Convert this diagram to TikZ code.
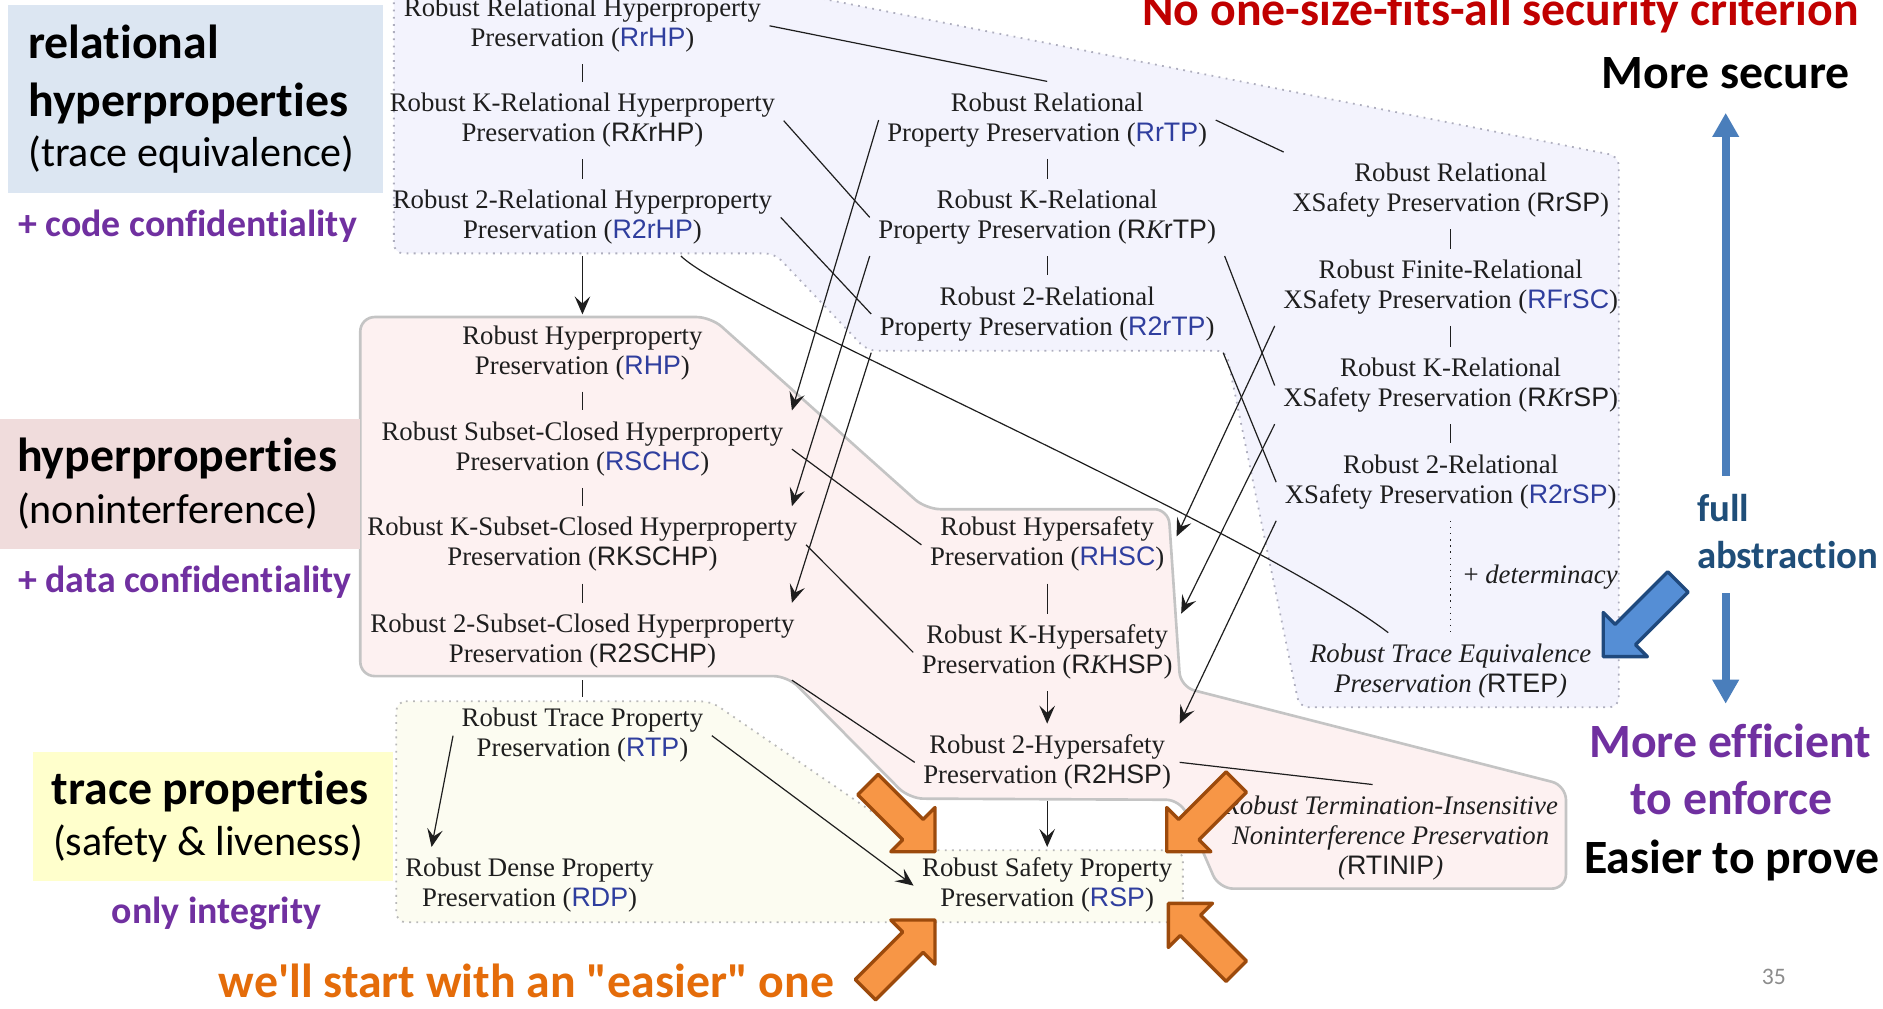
\documentclass[tikz,border=0pt]{standalone}
\usepackage{fontspec}
\setmainfont{Liberation Serif}
\newfontfamily\sansab{Liberation Sans}
\newfontfamily\calib[Ligatures={NoCommon,NoContextual}]{Carlito}
\usetikzlibrary{arrows.meta,calc}

\definecolor{txt}{HTML}{1E1E1E}
\definecolor{abblue}{HTML}{2F3E9E}
\definecolor{relfill}{HTML}{F3F3FD}
\definecolor{relline}{HTML}{AEAEBE}
\definecolor{hypfill}{HTML}{FDF1F1}
\definecolor{hypline}{HTML}{C4C4C4}
\definecolor{trfill}{HTML}{FCFCF1}
\definecolor{trline}{HTML}{B8B8B8}
\definecolor{boxblue}{HTML}{DCE6F2}
\definecolor{boxpink}{HTML}{F0DCDC}
\definecolor{boxyel}{HTML}{FFFFCC}
\definecolor{purp}{HTML}{7030A0}
\definecolor{redt}{HTML}{C00000}
\definecolor{oranget}{HTML}{E46C0A}
\definecolor{darkblue}{HTML}{1F4E79}
\definecolor{arrblue}{HTML}{4A7EBB}
\definecolor{orfill}{HTML}{F79646}
\definecolor{orbord}{HTML}{9C4A0C}
\definecolor{blfill}{HTML}{558ED5}
\definecolor{blbord}{HTML}{1F497D}
\definecolor{pagegray}{HTML}{8C8C8C}

% abbreviations: blue ones and plain ones, set in sans
\newcommand\bab[1]{{\sansab\upshape\color{abblue}#1}}
\newcommand\kab[1]{{\sansab\upshape #1}}
\newcommand\IK{{\rmfamily\itshape K}}

% a block arrow whose tip is at (0,0), pointing along +x
\tikzset{
  blockarr/.pic={
    \path[pic actions] (0,0) -- (-26,26) -- (-26,12) -- (-#1,12)
      -- (-#1,-12) -- (-26,-12) -- (-26,-26) -- cycle;
  }
}

\begin{document}
\begin{tikzpicture}[x=1pt,y=-1pt,
  prop/.style={align=center, inner sep=7pt, text=txt,
    font=\fontsize{22.3}{25}\selectfont},
  ln/.style={draw=txt, line width=1pt},
  arr/.style={ln, -{Stealth[length=15pt,width=13pt,inset=6pt]}},
  dotln/.style={draw=txt, line width=1.1pt, dash pattern=on 1.1pt off 4pt},
  lab/.style={anchor=base west, inner sep=0pt},
  labc/.style={anchor=base, inner sep=0pt},
  lbBig/.style={font=\calib\bfseries\fontsize{39.8}{44}\selectfont},
  lbReg/.style={font=\calib\fontsize{35}{40}\selectfont},
  lbNote/.style={font=\calib\bfseries\fontsize{31.5}{36}\selectfont, text=purp},
  barr/.style={draw=arrblue, line width=7pt, -{Triangle[length=20pt,width=21pt]}},
  orarr/.style={draw=orbord, fill=orfill, line width=2.8pt, line join=round},
  blarr/.style={draw=blbord, fill=blfill, line width=2.8pt, line join=round}
]
\useasboundingbox (0,0) rectangle (1568,840);
\clip (0,0) rectangle (1568,840);

% ---- the three families of criteria ----
\path[fill=relfill, draw=relline, line width=1.5pt, dash pattern=on 1.5pt off 4.5pt,
      rounded corners=8]
  (328,-30) -- (328,211) -- (645,211) -- (722,292) -- (1021,292) -- (1082,589)
  -- (1348,589) -- (1348,130) -- (589,-20) -- cycle;
\path[fill=hypfill, draw=hypline, line width=2.2pt, rounded corners=12]
  (300,264) -- (592,264) -- (771,424) -- (973,424) -- (983,572) -- (1304,654)
  -- (1304,740) -- (1015,740) -- (983,666) -- (757,665) -- (656,563)
  -- (300,563) -- cycle;
\path[fill=trfill, draw=trline, line width=1.5pt, dash pattern=on 1.5pt off 4.5pt,
      rounded corners=8]
  (330,584) -- (592,584) -- (773,708) -- (985,708) -- (985,768) -- (330,768) -- cycle;

% ---- side labels ----
\fill[boxblue] (6.4,4.2) rectangle (318.7,160.4);
\fill[boxpink] (0,349) rectangle (300,457);
\fill[boxyel] (27.7,626) rectangle (327.4,733.4);

\node[lab, lbBig] (lRelA) at (23.4,48.6) {relational};
\node[lab, lbBig] (lRelB) at (23.4,97) {hyperproperties};
\node[lab, lbReg] (lRelC) at (23.4,139) {(trace equivalence)};
\node[lab, lbNote] (lCode) at (15,197) {+ code confidentiality};
\node[lab, lbBig] (lHypA) at (14,393) {hyperproperties};
\node[lab, lbReg] (lHypB) at (14,436) {(noninterference)};
\node[lab, lbNote] (lData) at (15,493) {+ data confidentiality};
\node[lab, lbBig] (lTrA) at (43,669.5) {trace properties};
\node[lab, lbReg] (lTrB) at (44,712) {(safety \& liveness)};
\node[lab, lbNote] (lInt) at (93,769) {only integrity};
\node[lab, lbBig, text=oranget] (lStart) at (182,831) {we'll start with an "easier" one};
\node[lab, lbBig, text=redt] (lTitle) at (951,21) {No one-size-fits-all security criterion};
\node[labc, lbBig] (lSec) at (1437,73.5) {More secure};
\node[lab, lbBig, text=darkblue, font=\calib\bfseries\fontsize{32.3}{36}\selectfont] (lFull) at (1413,434.5) {full};
\node[lab, lbBig, text=darkblue, font=\calib\bfseries\fontsize{32.3}{36}\selectfont] (lAbs) at (1413,473) {abstraction};
\node[labc, lbBig, text=purp] (lEff) at (1441,631) {More efficient};
\node[labc, lbBig, text=purp] (lEnf) at (1442,678.6) {to enforce};
\node[labc, lbBig] (lProve) at (1442,727) {Easier to prove};
\node[lab, font=\calib\fontsize{19.7}{22}\selectfont, text=pagegray] (lPage) at (1467,820) {35};

% ---- relational hyperproperties ----
\node[prop] (RrHP) at (485,21.5) {\strut Robust Relational Hyperproperty\\\strut Preservation (\bab{RrHP})};
\node[prop] (RKrHP) at (485,100.5) {\strut Robust K-Relational Hyperproperty\\\strut Preservation (\kab{R\IK rHP})};
\node[prop] (R2rHP) at (485,181) {\strut Robust 2-Relational Hyperproperty\\\strut Preservation (\bab{R2rHP})};
\node[prop] (RrTP) at (872,100) {\strut Robust Relational\\\strut Property Preservation (\bab{RrTP})};
\node[prop] (RKrTP) at (872,181) {\strut Robust K-Relational\\\strut Property Preservation (\kab{R\IK rTP})};
\node[prop] (R2rTP) at (872,261.5) {\strut Robust 2-Relational\\\strut Property Preservation (\bab{R2rTP})};
\node[prop] (RrSP) at (1208,158.8) {\strut Robust Relational\\\strut XSafety Preservation (\kab{RrSP})};
\node[prop] (RFrSC) at (1208,239.2) {\strut Robust Finite-Relational\\\strut XSafety Preservation (\bab{RFrSC})};
\node[prop] (RKrSP) at (1208,321) {\strut Robust K-Relational\\\strut XSafety Preservation (\kab{R\IK rSP})};
\node[prop] (R2rSP) at (1208,401.5) {\strut Robust 2-Relational\\\strut XSafety Preservation (\bab{R2rSP})};
\node[prop] (RTEP) at (1208,559) {\itshape\strut Robust Trace Equivalence\\\itshape\strut Preservation (\kab{RTEP})};
\node[prop, anchor=base west, inner sep=0pt] (det) at (1218.5,485.8) {+ \textit{determinacy}};

% ---- hyperproperties ----
\node[prop] (RHP) at (485,294) {\strut Robust Hyperproperty\\\strut Preservation (\bab{RHP})};
\node[prop] (RSCHC) at (485,374) {\strut Robust Subset-Closed Hyperproperty\\\strut Preservation (\bab{RSCHC})};
\node[prop] (RKSCHP) at (485,453.7) {\strut Robust K-Subset-Closed Hyperproperty\\\strut Preservation (\kab{RKSCHP})};
\node[prop] (R2SCHP) at (485,534.2) {\strut Robust 2-Subset-Closed Hyperproperty\\\strut Preservation (\kab{R2SCHP})};
\node[prop] (RHSC) at (872,453.7) {\strut Robust Hypersafety\\\strut Preservation (\bab{RHSC})};
\node[prop] (RKHSP) at (872,543.2) {\strut Robust K-Hypersafety\\\strut Preservation (\kab{R\IK HSP})};
\node[prop] (R2HSP) at (872,634.8) {\strut Robust 2-Hypersafety\\\strut Preservation (\kab{R2HSP})};
\node[prop] (RTINIP) at (1158,698) {\itshape\strut Robust Termination-Insensitive\\\itshape\strut Noninterference Preservation\\\itshape\strut(\kab{RTINIP})};

% ---- trace properties ----
\node[prop] (RTP) at (485,612.6) {\strut Robust Trace Property\\\strut Preservation (\bab{RTP})};
\node[prop] (RDP) at (441,737.5) {\strut Robust Dense Property\\\strut Preservation (\bab{RDP})};
\node[prop] (RSP) at (872,737.5) {\strut Robust Safety Property\\\strut Preservation (\bab{RSP})};

% ---- links inside the columns ----
\draw[ln] (RrHP) -- (RKrHP);
\draw[ln] (RKrHP) -- (R2rHP);
\draw[arr] (R2rHP) -- (RHP);
\draw[ln] (RHP) -- (RSCHC);
\draw[ln] (RSCHC) -- (RKSCHP);
\draw[ln] (RKSCHP) -- (R2SCHP);
\draw[ln] (R2SCHP) -- (RTP);
\draw[ln] (RrTP) -- (RKrTP);
\draw[ln] (RKrTP) -- (R2rTP);
\draw[ln] (RrSP) -- (RFrSC);
\draw[ln] (RFrSC) -- (RKrSP);
\draw[ln] (RKrSP) -- (R2rSP);
\draw[dotln] (R2rSP) -- (RTEP);
\draw[ln] (RHSC) -- (RKHSP);
\draw[arr] (RKHSP) -- (R2HSP);
\draw[arr] (R2HSP) -- (RSP);

% ---- links across the columns ----
\draw[ln] (RrHP.east) -- (RrTP.north);
\draw[ln] (RKrHP.east) -- (RKrTP.west);
\draw[ln] (R2rHP.east) -- (R2rTP.west);
\draw[ln] (RrTP.east) -- (RrSP.north west);
\draw[ln] (RKrTP.south east) -- (RKrSP.west);
\draw[ln] (R2rTP.south east) -- (R2rSP.west);
\draw[ln] ($(R2rHP.south)+(82,0)$) .. controls ($(R2rHP.south)+(125,42)$)
  and ($(RTEP.north)+(-168,-88)$) .. ($(RTEP.north)+(-52,0)$);
\draw[arr] (RrTP.west) -- (RSCHC.north east);
\draw[arr] (RKrTP.south west) -- (RKSCHP.north -| RSCHC.east);
\draw[arr] (R2rTP.south west) -- (R2SCHP.north -| RSCHC.east);
\draw[arr] (RFrSC.south west) -- ($(RHSC.east)+(3,-7)$);
\draw[arr] (RKrSP.south west) -- (RKHSP.north east);
\draw[arr] (R2rSP.south west) -- (R2HSP.north east);
\draw[ln] (RSCHC.east) -- (RHSC.west);
\draw[ln] (RKSCHP.east) -- (RKHSP.west);
\draw[ln] (R2SCHP.south -| RSCHC.east) -- (R2HSP.west);
\draw[ln] (R2HSP.east) -- ($(RTINIP.north)+(-15,0)$);
\draw[arr] (RTP.west) -- ($(RDP.north west)+(29,0)$);
\draw[arr] (RTP.east) -- (RSP.west);

% ---- security / efficiency scale ----
\coordinate (upFoot) at (1437,396);
\coordinate (upTip) at (1437,94);
\coordinate (dnFoot) at (1437,494);
\coordinate (dnTip) at (1437,586);
\draw[barr] (upFoot) -- (upTip);
\draw[barr] (dnFoot) -- (dnTip);
\pic[blarr, rotate=-135] at (1335,546.8) {blockarr=88};

% ---- pointers to robust safety preservation ----
\pic[orarr, rotate=-45] at (778.6,709.2) {blockarr=79};
\pic[orarr, rotate=-135] at (971.5,709.2) {blockarr=82};
\pic[orarr, rotate=45] at (778.6,766.1) {blockarr=82};
\pic[orarr, rotate=135] at (972.9,752.2) {blockarr=80};
\end{tikzpicture}
\end{document}
